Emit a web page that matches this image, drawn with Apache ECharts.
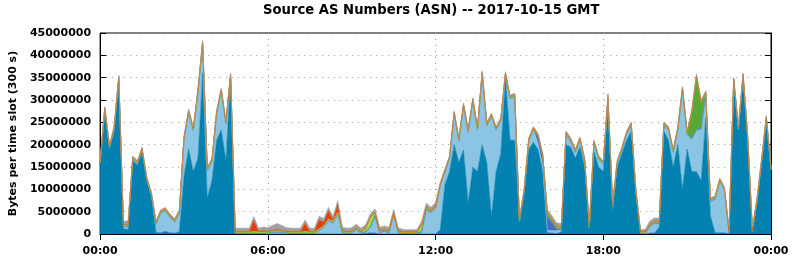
<!DOCTYPE html>
<html>
<head>
<meta charset="utf-8">
<title>Source AS Numbers (ASN)</title>
<script src="https://cdn.jsdelivr.net/npm/echarts@6/dist/echarts.min.js"></script>
<style>
    html, body { margin: 0; padding: 0; background: #fff; }
    #main { width: 792px; height: 259px; }
</style>
</head>
<body>
<div id="main"></div>
<script type="text/javascript">
    // one value every 10 minutes, in millions of bytes per 300 s slot
    var yTicks = [0, 5000000, 10000000, 15000000, 20000000, 25000000, 30000000, 35000000, 40000000, 45000000];

    var darkBlue = [
        15.5, 27.5, 19, 23, 34.5, 1.2, 1.0, 16.4, 15.4, 18.4, 11.9, 8.4,
        0.3, 0.3, 0.6, 0.3, 0.2, 0.5, 13, 19, 14, 17, 36, 8,
        12, 21, 23.3, 16.5, 35, 0, 0, 0, 0, 0, 0, 0,
        0, 0, 0, 0, 0, 0, 0, 0, 0, 0, 0, 0,
        0, 0, 0, 0, 0, 0, 0, 0, 0, 0.1, 0.3, 0.2,
        0, 0, 0, 0, 0, 0, 0, 0, 0, 0, 0, 0,
        0, 1, 11, 14, 20, 16, 18.8, 7, 15, 14, 20, 16,
        4, 14, 18, 35, 21, 21, 2.5, 9, 19, 20.5, 19, 14,
        0.3, 0.2, 0.1, 0.5, 20, 19.5, 17, 19.5, 15, 1.2, 18.5, 15,
        14, 28, 5, 15, 18, 21, 23, 9, 0, 0, 0.2, 0.2,
        1.5, 23, 21, 15, 20, 10, 19, 14, 14, 12, 26, 4,
        0.3, 0.3, 0.3, 0, 34, 23, 35, 21, 0.3, 7, 16, 25.5,
        14
    ];
    var lightBlue = [
        0.3, 0.3, 0.3, 0.3, 0.3, 0.5, 0.7, 0.3, 0.3, 0.3, 0.3, 0.3,
        1.9, 4.4, 4.6, 3.4, 2.5, 4.2, 8.2, 8.2, 9.2, 14.7, 6.6, 6.2,
        4.2, 5.9, 8.6, 8.2, 0.3, 0.1, 0.1, 0.1, 0.1, 0.2, 0.1, 0.1,
        0.2, 0.3, 0.4, 0.3, 0.2, 0.1, 0.1, 0.1, 0.2, 0.1, 0.1, 0.8,
        1.5, 3.0, 2.5, 4.5, 0.3, 0.1, 0.2, 1.0, 0.1, 0.3, 1.2, 3.8,
        0.3, 0.6, 0.3, 4.3, 0.2, 0.1, 0.05, 0.05, 0.1, 0.4, 5.5, 4.8,
        5.8, 9.8, 2.8, 2.8, 6.8, 4.8, 9.8, 15.8, 14.8, 9.3, 15.8, 8.3,
        22.3, 9.3, 7.3, 0.6, 9.3, 9.8, 0.3, 0.3, 1.8, 2.8, 1.3, 1.3,
        0.5, 0.5, 0.6, 0.5, 2.3, 1.3, 1.3, 1.5, 1.3, 0.1, 1.8, 1.8,
        1.6, 2.0, 1.3, 0.8, 0.8, 1.3, 1.3, 0.3, 0.1, 0.1, 1.5, 2.2,
        0.8, 1.3, 2.3, 3.3, 3.3, 22.3, 3.3, 7.3, 9.3, 11.5, 5.3, 3.3,
        7.5, 11.5, 9.5, 0.3, 0.3, 0.3, 0.3, 0.3, 0.2, 0.3, 0.3, 0.3,
        0.3
    ];
    var royalBlue = [
        0, 0, 0, 0, 0, 0, 0, 0, 0, 0, 0, 0,
        0, 0, 0, 0, 0, 0, 0, 0, 0, 0, 0, 0,
        0, 0, 0, 0, 0, 0, 0, 0, 0, 0, 0, 0,
        0, 0, 0, 0, 0, 0, 0, 0, 0, 0, 0, 0,
        0, 0, 0, 0, 0, 0, 0, 0, 0, 0, 0, 0,
        0, 0, 0, 0, 0, 0, 0, 0, 0, 0, 0, 0,
        0, 0, 0, 0, 0, 0, 0, 0, 0, 0, 0, 0,
        0, 0, 0, 0, 0, 0, 0, 0, 0, 0, 1.5, 2,
        3, 1.8, 0.3, 0, 0, 0, 0, 0, 0, 0, 0, 0,
        0, 0, 0, 0, 0, 0, 0, 0, 0, 0, 0, 0,
        0, 0, 0, 0, 0, 0, 0, 0, 0, 0, 0, 0,
        0, 0, 0, 0, 0, 0, 0, 0, 0, 0, 0, 0,
        0
    ];
    var green = [
        .25, .25, .25, .25, .25, .25, .25, .25, .25, .25, .25, .25,
        .25, .25, .25, .25, .25, .25, .25, .25, .25, .25, .25, .25,
        .25, .25, .25, .25, .25, .25, .25, .25, .25, .25, .25, .25,
        .25, .25, .25, .25, .25, .25, .25, .25, .25, .25, .25, .25,
        .25, .25, .25, .25, .25, .25, .25, .25, .25, .25, .25, .25,
        .25, .25, .25, .25, .25, .25, .25, .25, .25, .25, .25, .25,
        .25, .25, .25, .25, .25, .25, .25, .25, .25, .25, .25, .25,
        .25, .25, .25, .25, .25, .25, .25, .25, .25, .25, .25, .25,
        .7, .6, .5, .4, .25, .25, .25, .25, .25, .25, .25, .25,
        .25, .25, .25, .25, .25, .25, .25, .25, .25, .25, .25, .25,
        .25, .25, .25, .25, .25, .25, .25, 6, 12, 6, .25, .25,
        .25, .25, .25, .25, .25, .25, .25, .25, .25, .25, .25, .25,
        .25
    ];
    var lime = [
        0, 0, 0, 0, 0, 0, 0, 0, 0, 0, 0, 0,
        0, 0, 0, 0, 0, 0, 0, 0, 0, 0, 0, 0,
        0, 0, 0, 0, 0, 0, 0, 0, 0, 0, 0, 0,
        0, 0, 0, 0, 0, 0, 0, 0, 0, 0, 0, 0,
        0, 0, 0, 0, 0, 0, 0, 0, 0, .5, 1.8, .4,
        0, 0, 0, 0, 0, 0, 0, 0, 0, 1.2, .2, 0,
        0, 0, 0, 0, 0, 0, 0, 0, 0, 0, 0, 0,
        0, 0, 0, 0, 0, 0, 0, 0, 0, 0, 0, 0,
        0, 0, 0, 0, 0, 0, 0, 0, 0, 0, 0, 0,
        0, 0, 0, 0, 0, 0, 0, 0, 0, 0, 0, 0,
        0, 0, 0, 0, 0, 0, 0, 0, 0, 0, 0, 0,
        0, 0, 0, 0, 0, 0, 0, 0, 0, 0, 0, 0,
        0
    ];
    var orange = [
        .15, .15, .15, .15, .15, .1, .1, .15, .15, .15, .15, .15,
        .15, .15, .15, .15, .15, .15, .15, .15, .15, .15, .15, .15,
        .15, .15, .15, .15, .15, .1, .1, .1, .1, .1, .1, .1,
        .1, .1, .1, .1, .1, .1, .1, .1, .1, .1, .1, .1,
        .1, .1, .1, .1, .1, .1, .1, .1, .1, .1, .1, .1,
        .1, .1, .1, .1, .1, .1, .1, .1, .1, .1, .1, .1,
        .1, .15, .15, .15, .15, .15, .15, .15, .15, .15, .15, .15,
        .15, .15, .15, .15, .15, .15, .15, .15, .15, .15, .15, .15,
        .1, .1, .1, .1, .15, .15, .15, .15, .15, .1, .15, .15,
        .15, .15, .15, .15, .15, .15, .15, .15, .1, .1, .1, .1,
        .1, .15, .15, .15, .15, .15, .15, .15, .15, .15, .15, .15,
        .15, .15, .15, .1, .15, .15, .15, .15, .1, .15, .15, .15,
        .15
    ];
    var red = [
        .1, .1, .1, .1, .1, .05, .05, .1, .1, .1, .1, .1,
        .1, .1, .1, .1, .1, .1, .1, .1, .1, .1, .1, .1,
        .1, .1, .1, .1, .1, .05, .05, .05, .05, 2.5, .05, .3,
        .05, .05, .3, .05, .05, .05, .05, .05, 1.8, .05, .05, 2.0,
        .8, 1.8, .3, 1.8, .05, .05, .05, .05, .05, .05, .05, .05,
        .05, .05, .05, .05, .05, .05, .05, .05, .05, .05, .05, .05,
        .05, .1, .1, .1, .1, .1, .1, .1, .1, .1, .1, .1,
        .1, .1, .1, .1, .1, .1, .1, .1, .1, .1, .1, .1,
        .05, .05, .05, .05, .1, .1, .1, .1, .1, .05, .1, .1,
        .1, .8, .1, .1, .1, .1, .1, .1, .05, .05, .05, .05,
        .05, .1, .1, .1, .1, .1, .1, .1, .1, .1, .1, .1,
        .1, .1, .1, .05, .1, .1, .1, .1, .05, .1, .1, .1,
        .1
    ];
    var gray = [
        .25, .25, .25, .25, .25, .8, .8, .25, .25, .25, .25, .25,
        .25, .25, .25, .25, .25, .25, .25, .25, .25, .25, .25, .25,
        .25, .25, .25, .25, .25, .8, .8, .8, .8, .8, .8, .8,
        .8, 1.2, 1.3, 1.2, .8, .8, .8, .8, .8, .8, .8, .8,
        .8, .8, .8, .8, .8, .8, .8, .8, .8, .8, .8, .8,
        .8, .8, .8, .8, .8, .5, .5, .5, .5, .8, .8, .8,
        .8, .25, .25, .25, .25, .25, .25, .25, .25, .25, .25, .25,
        .25, .25, .25, .25, .25, .25, .25, .25, .25, .25, .25, .25,
        .8, .8, .8, .8, .25, .25, .25, .25, .25, .8, .25, .25,
        .25, .25, .25, .25, .25, .25, .25, .25, .5, .5, .8, .8,
        .8, .25, .25, .25, .25, .25, .25, .25, .25, .25, .25, .25,
        .25, .25, .25, .8, .25, .25, .25, .25, .8, .25, .25, .25,
        .25
    ];

    // time of day labels, one per 10 minute step, 00:00 .. 24:00
    var slots = [];
    for (var i = 0; i < darkBlue.length; i++) {
        var m = i * 10, h = Math.floor(m / 60) % 24, mm = m % 60;
        slots.push((h < 10 ? '0' : '') + h + ':' + (mm < 10 ? '0' : '') + mm);
    }

    function everySix(index) {
        return index % 36 === 0;
    }

    function millions(arr) {
        return arr.map(function (v) { return v * 1000000; });
    }

    var layers = [
        {name: 'dark blue', data: darkBlue, color: '#0381b1'},
        {name: 'light blue', data: lightBlue, color: '#8cc5e3'},
        {name: 'royal blue', data: royalBlue, color: '#4a6cc0'},
        {name: 'green', data: green, color: '#58a838'},
        {name: 'lime', data: lime, color: '#a2e04a'},
        {name: 'orange', data: orange, color: '#e0a030'},
        {name: 'red', data: red, color: '#e04008'},
        {name: 'gray', data: gray, color: '#a0a0a0'}
    ];

    var font = 'DejaVu Sans';
    var dotted = {color: '#9a9a9a', width: 1, type: [1, 5]};

    var myChart = echarts.init(document.getElementById('main'), null, {renderer: 'canvas'});

    var option = {
        animation: false,
        backgroundColor: '#fff',
        title: {
            text: 'Source AS Numbers (ASN) -- 2017-10-15 GMT',
            left: 258,
            top: -1,
            textStyle: {fontFamily: font, fontWeight: 'bold', fontSize: 13.2, color: '#000'}
        },
        grid: {left: 93, right: 21, top: 33, bottom: 25, show: true, borderColor: '#000', borderWidth: 1},
        xAxis: [{
            type: 'category',
            data: slots,
            boundaryGap: false,
            axisLine: {lineStyle: {color: '#000', width: 1}},
            axisTick: {inside: true, length: 6, interval: everySix, lineStyle: {color: '#000'}},
            axisLabel: {interval: everySix, margin: 12, fontFamily: font, fontWeight: 'bold', fontSize: 11, color: '#000'},
            splitLine: {show: true, interval: everySix, lineStyle: dotted}
        }, {
            type: 'category',
            data: slots,
            boundaryGap: false,
            position: 'top',
            axisLine: {lineStyle: {color: '#000', width: 1}},
            axisTick: {inside: true, length: 6, interval: everySix, lineStyle: {color: '#000'}},
            axisLabel: {show: false},
            splitLine: {show: false}
        }],
        yAxis: [{
            type: 'value',
            min: yTicks[0],
            max: yTicks[yTicks.length - 1],
            interval: 5000000,
            name: 'Bytes per time slot (300 s)',
            nameLocation: 'middle',
            nameGap: 79,
            nameTextStyle: {fontFamily: font, fontWeight: 'bold', fontSize: 11, color: '#000'},
            axisLine: {show: true, lineStyle: {color: '#000', width: 1}},
            axisTick: {show: true, inside: true, length: 6, lineStyle: {color: '#000'}},
            axisLabel: {margin: 9, formatter: function (v) { return String(v); },
                fontFamily: font, fontWeight: 'bold', fontSize: 11, color: '#000'},
            splitLine: {show: true, lineStyle: dotted}
        }, {
            type: 'value',
            position: 'right',
            min: yTicks[0],
            max: yTicks[yTicks.length - 1],
            interval: 5000000,
            axisLine: {show: true, lineStyle: {color: '#000', width: 1}},
            axisTick: {show: true, inside: true, length: 6, lineStyle: {color: '#000'}},
            axisLabel: {show: false},
            splitLine: {show: false}
        }],
        series: layers.map(function (l) {
            return {
                name: l.name,
                type: 'line',
                stack: 'asn',
                data: millions(l.data),
                showSymbol: false,
                symbol: 'none',
                lineStyle: {width: 0.6, color: l.color},
                itemStyle: {color: l.color},
                areaStyle: {color: l.color, opacity: 1}
            };
        })
    };
    myChart.setOption(option);
</script>
</body>
</html>
